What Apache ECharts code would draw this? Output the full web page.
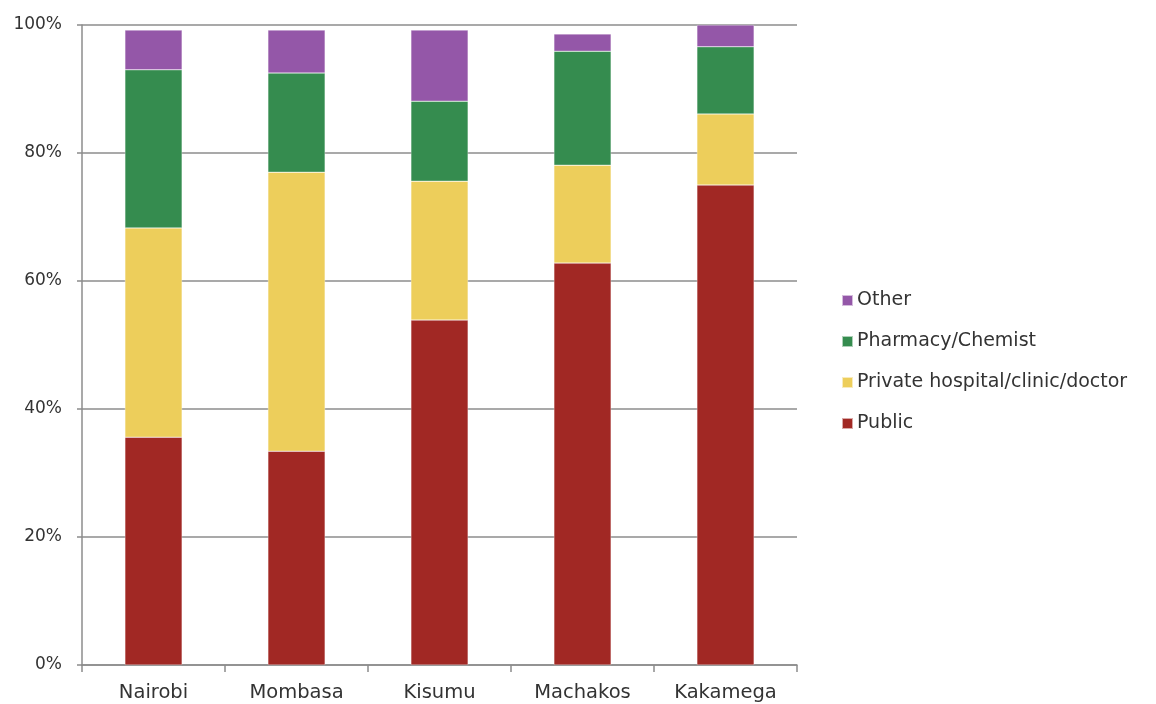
<!DOCTYPE html>
<html><head><meta charset="utf-8">
<script src="https://cdn.jsdelivr.net/npm/echarts@6/dist/echarts.min.js"></script>
<style>html,body{margin:0;padding:0;background:#fff}#c{width:1156px;height:704px}</style>
</head><body><div id="c"></div>
<script>
var categories = ['Nairobi','Mombasa','Kisumu','Machakos','Kakamega'];
var publicVals = [35.6, 33.4, 53.9, 62.8, 75.0];
var privateVals = [32.7, 43.6, 21.7, 15.3, 11.1];
var pharmacyVals = [24.7, 15.5, 12.5, 17.8, 10.5];
var otherVals = [6.2, 6.7, 11.1, 2.7, 3.4];
var seriesNames = ['Public','Private hospital/clinic/doctor','Pharmacy/Chemist','Other'];
var legendOrder = ['Other','Pharmacy/Chemist','Private hospital/clinic/doctor','Public'];
var colors = ['#A12824','#EDCE5B','#358C4F','#9457A8'];
var yTicks = [0,20,40,60,80,100];

var font = 'DejaVu Sans';
var chart = echarts.init(document.getElementById('c'));
var data = [publicVals, privateVals, pharmacyVals, otherVals];
chart.setOption({
  animation:false,
  grid:{left:82,right:359,top:25,bottom:39,containLabel:false},
  legend:{
    orient:'vertical', left:836, top:285,
    data:legendOrder, itemWidth:11, itemHeight:11, itemGap:20,
    icon:'rect',
    textStyle:{fontFamily:font,fontSize:19,color:'#333333',lineHeight:21,padding:[0,0,0,-1]}
  },
  xAxis:{
    type:'category', data:categories,
    axisLine:{lineStyle:{color:'#8c8c8c',width:1.5}},
    axisTick:{show:true,length:7,lineStyle:{color:'#8c8c8c',width:1.5}},
    axisLabel:{fontFamily:font,fontSize:19.5,color:'#333333',margin:18}
  },
  yAxis:{
    type:'value', min:0, max:100, interval:20,
    axisLine:{show:true,lineStyle:{color:'#8c8c8c',width:1.5}},
    axisTick:{show:true,length:5,lineStyle:{color:'#8c8c8c',width:1.5}},
    axisLabel:{fontFamily:font,fontSize:17,color:'#333333',margin:20,formatter:function(v){return v+'%';}},
    splitLine:{lineStyle:{color:'#8c8c8c',width:1.5}}
  },
  series: seriesNames.map(function(n,i){
    return {name:n,type:'bar',stack:'s',data:data[i],barWidth:'40%',
      itemStyle:{color:colors[i],borderColor:'rgba(255,255,255,0.6)',borderWidth:0.5}};
  })
});
</script></body></html>
